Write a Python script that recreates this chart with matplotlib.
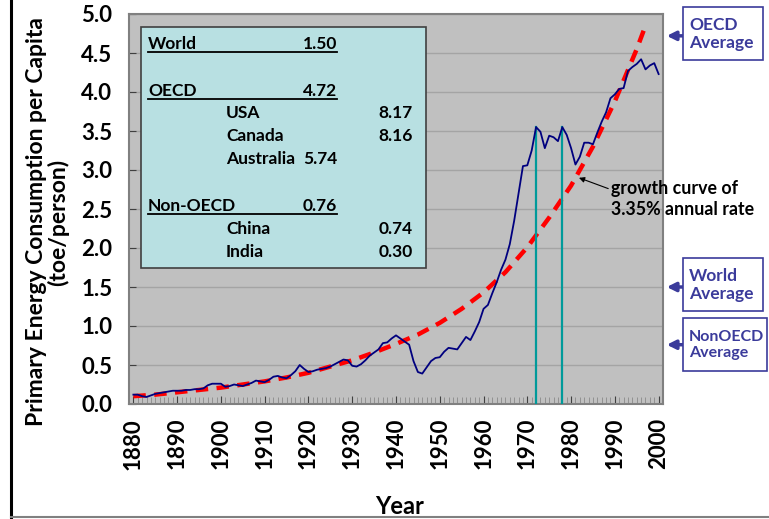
import matplotlib
matplotlib.use("Agg")
import matplotlib.pyplot as plt
from matplotlib.patches import Rectangle
from matplotlib.lines import Line2D

plt.rcParams['font.family'] = ['Lato', 'DejaVu Sans']
plt.rcParams['font.weight'] = 'bold'

# per-capita primary energy consumption (toe/person)
years = list(range(1880, 2001))
per_capita = [
    0.12, 0.12, 0.10, 0.09, 0.11, 0.13, 0.14, 0.15, 0.16, 0.17,   # 1880s
    0.17, 0.17, 0.18, 0.18, 0.19, 0.19, 0.20, 0.24, 0.26, 0.26,   # 1890s
    0.26, 0.22, 0.23, 0.25, 0.24, 0.23, 0.25, 0.27, 0.30, 0.29,   # 1900s
    0.28, 0.31, 0.35, 0.36, 0.34, 0.33, 0.37, 0.42, 0.50, 0.45,   # 1910s
    0.41, 0.42, 0.44, 0.45, 0.46, 0.48, 0.51, 0.54, 0.57, 0.56,   # 1920s
    0.49, 0.48, 0.51, 0.56, 0.62, 0.66, 0.70, 0.78, 0.79, 0.84,   # 1930s
    0.88, 0.84, 0.80, 0.76, 0.55, 0.41, 0.39, 0.47, 0.55, 0.59,   # 1940s
    0.60, 0.67, 0.72, 0.71, 0.70, 0.78, 0.86, 0.82, 0.93, 1.05,   # 1950s
    1.22, 1.27, 1.42, 1.56, 1.72, 1.85, 2.05, 2.35, 2.70, 3.05,   # 1960s
    3.06, 3.25, 3.55, 3.49, 3.28, 3.44, 3.42, 3.37, 3.55, 3.45,   # 1970s
    3.28, 3.07, 3.17, 3.35, 3.35, 3.33, 3.48, 3.62, 3.74, 3.92,   # 1980s
    3.97, 4.04, 4.05, 4.27, 4.32, 4.36, 4.42, 4.29, 4.34, 4.37,   # 1990s
    4.23,
]

# 3.35% growth curve, read at 5 year steps
growth_years = [1880, 1885, 1890, 1895, 1900, 1905, 1910, 1915, 1920, 1925, 1930, 1935,
                1940, 1945, 1950, 1955, 1960, 1965, 1970, 1975, 1980, 1985, 1990, 1995, 1997]
growth_vals = [0.10, 0.12, 0.15, 0.18, 0.21, 0.25, 0.29, 0.34, 0.40, 0.48, 0.56, 0.66,
               0.77, 0.89, 1.04, 1.22, 1.43, 1.69, 2.01, 2.39, 2.80, 3.30, 3.88, 4.55, 4.85]

# oil shock peaks
shock_years = [1972, 1978]
shock_vals = [3.55, 3.55]

# inset table
groups = [("World", "1.50"), ("OECD", "4.72"), ("Non-OECD", "0.76")]
countries = [("USA", "8.17"), ("Canada", "8.16"), ("Australia", "5.74"),
             ("China", "0.74"), ("India", "0.30")]

# averages shown on the right
avg_labels = ["OECD\nAverage", "World\nAverage", "NonOECD\nAverage"]
avg_vals = [4.72, 1.50, 0.76]

W, H = 769, 519
fig = plt.figure(figsize=(W / 100, H / 100), dpi=100)
ax = fig.add_axes([129 / W, 1 - 404 / H, (663 - 129) / W, (404 - 14) / H])

def px(x, y):
    return x / W, 1 - y / H

ax.set_facecolor('#c0c0c0')
ax.set_xlim(1879, 2001)
ax.set_ylim(0, 5)
ax.set_yticks([i * 0.5 for i in range(11)])
ax.set_yticklabels([f"{i * 0.5:.1f}" for i in range(11)])
ax.set_xticks(range(1880, 2001, 10))
ax.set_xticks(range(1879, 2002), minor=True)
ax.tick_params(axis='x', which='major', direction='in', length=6, color='#404040',
               labelsize=16, labelrotation=90, pad=10)
ax.tick_params(axis='x', which='minor', direction='in', length=5, color='#8a8a8a')
ax.tick_params(axis='y', which='major', direction='in', length=5, color='#404040',
               labelsize=16, pad=12)
ax.grid(axis='y', color='#a4a4a4', lw=1)
ax.set_axisbelow(True)
for s in ax.spines.values():
    s.set_color('#808080')
    s.set_linewidth(1.5)

ax.plot(years, per_capita, color='#00007f', lw=1.3, zorder=4)
ax.plot(growth_years, growth_vals, color='#ff0000', lw=3.2, dashes=(2.8, 1.9), zorder=3)
for yr, v in zip(shock_years, shock_vals):
    ax.plot([yr, yr], [0, v], color='#009a9a', lw=1.6, zorder=3)

fig.text(*px(400, 506), "Year", ha='center', va='center', fontsize=17, fontweight='bold')
fig.text(*px(48, 222), "Primary Energy Consumption per Capita\n(toe/person)",
         rotation=90, ha='center', va='center', fontsize=16.5, fontweight='bold',
         multialignment='center', linespacing=1.0)

# inset table
box = Rectangle(px(141, 268), (426 - 141) / W, (268 - 27) / H, transform=fig.transFigure,
                facecolor='#b8e0e2', edgecolor='#404040', lw=1.2, zorder=5)
fig.add_artist(box)
fs = 12.5
group_y = [44, 91, 206]
for (name, val), y in zip(groups, group_y):
    fig.text(*px(148, y), name, ha='left', va='center', fontsize=fs, zorder=6)
    fig.text(*px(337, y), val, ha='right', va='center', fontsize=fs, zorder=6)
    fig.add_artist(Line2D([148 / W, 337 / W], [1 - (y + 8) / H] * 2, color='black',
                          lw=1.3, transform=fig.transFigure, zorder=6))
country_y = [113, 136, 159, 229, 252]
for (name, val), y in zip(countries, country_y):
    fig.text(*px(226, y), name, ha='left', va='center', fontsize=fs, zorder=6)
    right = 337 if name == "Australia" else 413
    fig.text(*px(right, y), val, ha='right', va='center', fontsize=fs, zorder=6)

# average markers on the right
blue = '#3b3b9b'
box_tops = [7, 258, 318]
box_w = [80, 80, 84]
box_fs = [12.5, 12.5, 11.5]
for lab, v, top, bw, bfs in zip(avg_labels, avg_vals, box_tops, box_w, box_fs):
    fig.add_artist(Rectangle(px(683, top + 53), bw / W, 53 / H, transform=fig.transFigure,
                             facecolor='white', edgecolor=blue, lw=1.2))
    fig.text(*px(689, top + 27), lab, ha='left', va='center', fontsize=bfs,
             color=blue, linespacing=1.2)
    ax.annotate("", xy=(664 / W, v), xycoords=('figure fraction', 'data'),
                xytext=(688 / W, v), textcoords=('figure fraction', 'data'),
                arrowprops=dict(arrowstyle='-|>', color=blue, lw=2.5, mutation_scale=13),
                annotation_clip=False)

# growth curve note
ax.annotate("growth curve of\n3.35% annual rate", xy=(1981.8, 2.9), xytext=(611 / W, 1 - 199 / H),
            textcoords='figure fraction', ha='left', va='center', fontsize=12.8,
            linespacing=1.25, zorder=7,
            arrowprops=dict(arrowstyle='-|>', color='black', lw=0.8, mutation_scale=8,
                            shrinkA=0, shrinkB=0, relpos=(0, 0.75)))

# slide frame edges
fig.add_artist(Line2D([11 / W, 11 / W], [0, 1], color='black', lw=2.2, transform=fig.transFigure))
fig.add_artist(Line2D([11 / W, 1], [1 - 517 / H] * 2, color='#808080', lw=1.5,
                      transform=fig.transFigure))

fig.savefig("out.png", dpi=100)
